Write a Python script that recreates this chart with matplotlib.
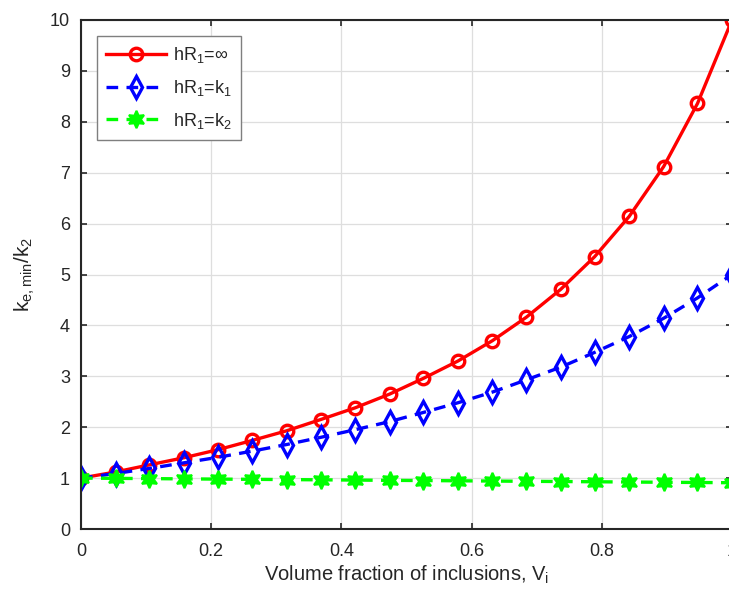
import matplotlib
matplotlib.use("Agg")
import matplotlib.pyplot as plt

vi = [0.0, 0.053, 0.105, 0.158, 0.211, 0.263, 0.316, 0.368, 0.421, 0.474,
      0.526, 0.579, 0.632, 0.684, 0.737, 0.789, 0.842, 0.895, 0.947, 1.0]

# k_e,min / k_2 for each interface condition
k_inf = [1.0, 1.12, 1.26, 1.40, 1.56, 1.74, 1.93, 2.15, 2.38, 2.65,
         2.96, 3.30, 3.70, 4.16, 4.71, 5.35, 6.14, 7.12, 8.36, 10.0]
k_k1 = [1.0, 1.09, 1.19, 1.30, 1.41, 1.53, 1.66, 1.80, 1.95, 2.11,
        2.29, 2.48, 2.69, 2.93, 3.18, 3.47, 3.78, 4.14, 4.54, 5.0]
k_k2 = [1.0, 0.995, 0.99, 0.985, 0.98, 0.976, 0.971, 0.966, 0.961, 0.956,
        0.952, 0.947, 0.942, 0.937, 0.933, 0.928, 0.923, 0.918, 0.914, 0.909]

labels = ["hR$_1$=\u221e", "hR$_1$=k$_1$", "hR$_1$=k$_2$"]
xticks = [0, 0.2, 0.4, 0.6, 0.8, 1.0]
xticklabels = ["0", "0.2", "0.4", "0.6", "0.8", "1"]
yticks = list(range(0, 11))

plt.rcParams['font.family'] = ['Liberation Sans', 'DejaVu Sans']
plt.rcParams['mathtext.fontset'] = 'custom'
plt.rcParams['mathtext.rm'] = 'Liberation Sans'
plt.rcParams['mathtext.it'] = 'Liberation Sans'
plt.rcParams['mathtext.default'] = 'regular'

dark = '#262626'

fig = plt.figure(figsize=(7.29, 5.96), dpi=100)
ax = fig.add_axes([81 / 729, 1 - 529 / 596, 651 / 729, 509 / 596])

ax.plot(vi, k_inf, color='red', lw=2.4, marker='o', ms=9,
        mfc='none', mew=2.4, label=labels[0])
ax.plot(vi, k_k1, color='blue', lw=2.4, ls=(0, (3.5, 2.5)), marker='d', ms=11,
        mfc='none', mew=2.4, label=labels[1])
ax.plot(vi, k_k2, color='#00ff00', lw=2.4, ls=(0, (3.5, 2.5)), marker=(6, 1, 0),
        ms=12.5, mfc='#00ff00', mew=1.5, label=labels[2])

ax.set_xlim(0, 1)
ax.set_ylim(0, 10)
ax.set_xticks(xticks)
ax.set_xticklabels(xticklabels)
ax.set_yticks(yticks)
ax.grid(True, color='#dedede', lw=0.9)
ax.set_axisbelow(True)

ax.tick_params(direction='in', top=True, right=True, length=4.5, width=1.2,
               colors=dark, labelsize=13)
ax.tick_params(axis='x', pad=10)
ax.tick_params(axis='y', pad=8)
for s in ax.spines.values():
    s.set_color(dark)
    s.set_linewidth(1.5)

ax.set_xlabel("Volume fraction of inclusions, V$_i$", fontsize=14.5, color=dark, labelpad=3)
ax.set_ylabel("k$_{e,min}$/k$_2$", fontsize=15, color=dark, labelpad=9)

leg = ax.legend(loc='upper left', fontsize=13, fancybox=False, framealpha=1,
                edgecolor='#7f7f7f', borderaxespad=0.9, handlelength=3.3,
                handletextpad=0.4, labelspacing=0.7, borderpad=0.5)
leg.get_frame().set_linewidth(1.0)
for t in leg.get_texts():
    t.set_color(dark)

fig.savefig("out.png", dpi=100)
